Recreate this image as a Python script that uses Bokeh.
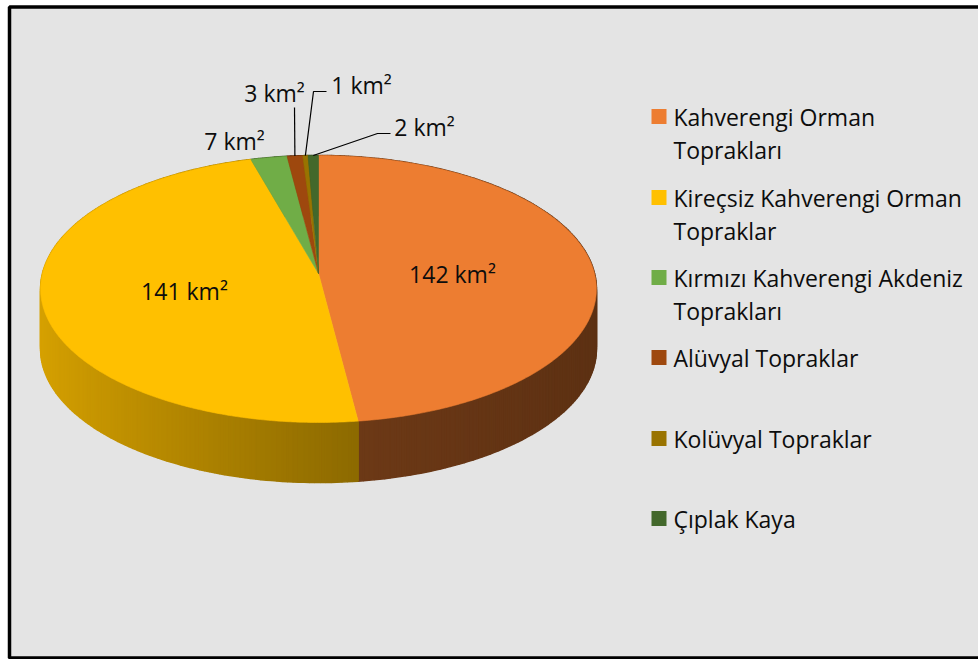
import numpy as np
from bokeh.plotting import figure
from bokeh.models import ColumnDataSource, Range1d
from bokeh.embed import file_html
from bokeh.resources import INLINE
from bokeh.core.properties import value

# Soil types and their areas (km²)
soil_types = [
    "Kahverengi Orman\nToprakları",
    "Kireçsiz Kahverengi Orman\nTopraklar",
    "Kırmızı Kahverengi Akdeniz\nToprakları",
    "Alüvyal Topraklar",
    "Kolüvyal Topraklar",
    "Çıplak Kaya",
]
areas = [142, 141, 7, 3, 1, 2]
colors = ["#ED7D31", "#FFC000", "#70AD47", "#9E480E", "#997300", "#43682B"]

# side-wall shading (base factor, left-light factor) per slice
wall_shade = [(0.47, 0.08), (0.585, 0.26), (0.5, 0.25), (0.5, 0.25), (0.5, 0.25), (0.5, 0.25)]

# value-label placement
label_x = [452, 184, 234, 274, 361, 424]
label_y = [273, 290, 140, 92, 84, 126]
# leader line start points for the small slices (None = no leader)
leader_start = [None, None, None, [(294, 107)], [(326, 91), (313, 91)], [(390, 133), (377, 133)]]

W, H = 978, 659
FONT = "Open Sans"
FONT_SIZE = "23px"

# projected pie geometry (perspective-tilted disc)
CX, CY = 318.0, 273.0
A, B, K = 276.0, 131.7, 0.116
DEPTH = 60.0


def rim(theta):
    u, v = np.sin(theta), np.cos(theta)
    d = 1 + K * v
    return CX + A * u / d, CY - B * v / d


def hex_to_rgb(h):
    h = h.lstrip("#")
    return tuple(int(h[i:i + 2], 16) for i in (0, 2, 4))


def scale(h, f):
    r, g, b = hex_to_rgb(h)
    f = max(0.0, min(1.0, f))
    return "#%02x%02x%02x" % (int(r * f), int(g * f), int(b * f))


p = figure(width=W, height=H, x_range=Range1d(0, W), y_range=Range1d(H, 0),
           x_axis_type=None, y_axis_type=None, toolbar_location=None,
           output_backend="svg", min_border=0)
p.outline_line_color = None
p.grid.visible = False
p.background_fill_color = "white"
p.border_fill_color = "white"

# chart area frame
p.quad(left=[9], right=[W + 20], top=[6.5], bottom=[657.5],
       fill_color="#e4e4e4", line_color="black", line_width=3.5)

total = float(sum(areas))
bounds = np.concatenate([[0.0], np.cumsum(areas) / total * 2 * np.pi])

# side wall strips, drawn back to front
strips = []
for i, (t1, t2) in enumerate(zip(bounds[:-1], bounds[1:])):
    n = max(2, int(np.degrees(t2 - t1)) + 1)
    ts = np.linspace(t1, t2, n + 1)
    a, b = wall_shade[i]
    for ta, tb in zip(ts[:-1], ts[1:]):
        xa, ya = rim(ta)
        xb, yb = rim(tb)
        tm = 0.5 * (ta + tb)
        col = scale(colors[i], a + b * (-np.sin(tm)))
        strips.append((np.cos(tm), [xa, xb, xb, xa], [ya, yb, yb + DEPTH, ya + DEPTH], col))
strips.sort(key=lambda s: -s[0])
wall_src = ColumnDataSource(dict(xs=[s[1] for s in strips], ys=[s[2] for s in strips],
                                 c=[s[3] for s in strips]))
p.patches("xs", "ys", source=wall_src, fill_color="c", line_color="c", line_width=1.6)

# top faces
top_xs, top_ys = [], []
for t1, t2 in zip(bounds[:-1], bounds[1:]):
    n = max(3, int(np.degrees(t2 - t1) * 2) + 2)
    ts = np.linspace(t1, t2, n)
    rx, ry = rim(ts)
    top_xs.append([CX] + list(rx))
    top_ys.append([CY] + list(ry))
p.patches(top_xs, top_ys, fill_color=colors, line_color=colors, line_width=0.6)

# leader lines
for i, start in enumerate(leader_start):
    if start is None:
        continue
    tm = 0.5 * (bounds[i] + bounds[i + 1])
    ex, ey = rim(tm)
    xs = [pt[0] for pt in start] + [ex]
    ys = [pt[1] for pt in start] + [ey]
    p.line(xs, ys, line_color="black", line_width=1.2)

# value labels
p.text(x=label_x, y=label_y, text=[f"{v} km²" for v in areas],
       text_font=value(FONT), text_font_size=FONT_SIZE, text_color="#0d0d0d",
       text_align="center", text_baseline="middle")

# legend
leg_x0 = 651
leg_y = [116, 197, 277, 357, 438, 518]
line_gap = 33
p.rect(x=[leg_x0 + 7.5] * len(colors), y=leg_y, width=15, height=15,
       fill_color=colors, line_color=None)
lx, ly, lt = [], [], []
for name, y in zip(soil_types, leg_y):
    for j, line in enumerate(name.split("\n")):
        lx.append(673)
        ly.append(y + j * line_gap)
        lt.append(line)
p.text(x=lx, y=ly, text=lt, text_font=value(FONT), text_font_size=FONT_SIZE,
       text_color="#0d0d0d", text_align="left", text_baseline="middle")

open("out.html", "w").write(file_html(p, INLINE))
